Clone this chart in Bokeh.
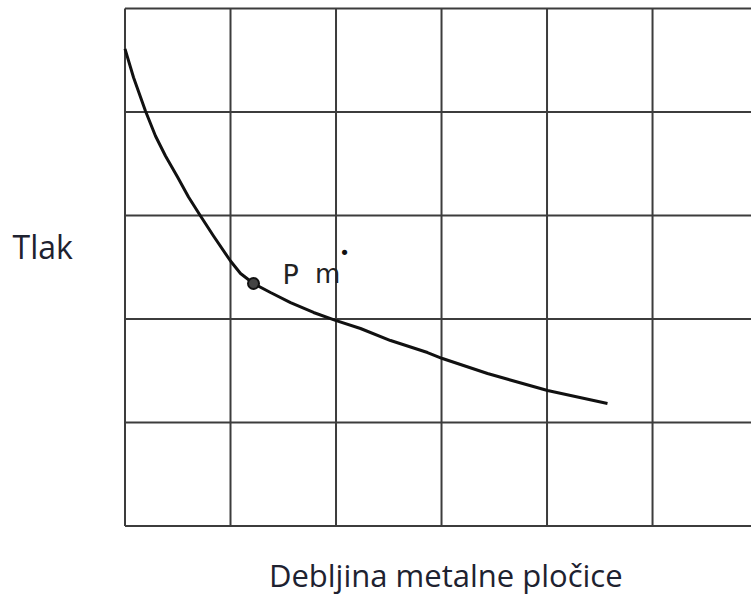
from bokeh.plotting import figure
from bokeh.models import Range1d
from bokeh.core.properties import value
from bokeh.embed import file_html
from bokeh.resources import INLINE

# Data (arbitrary units)
thickness = [0.0, 0.081, 0.194, 0.289, 0.384, 0.498, 0.602, 0.716, 0.839, 1.0, 1.095, 1.218,
             1.379, 1.569, 1.787, 1.995, 2.232, 2.517, 2.867, 3.009, 3.436, 4.005, 4.573]
pressure = [4.61, 4.333, 4.01, 3.768, 3.575, 3.372, 3.179, 2.995, 2.802, 2.56, 2.44, 2.343,
            2.256, 2.159, 2.063, 1.986, 1.908, 1.792, 1.676, 1.618, 1.473, 1.309, 1.184]
pm_x = [1.218]
pm_y = [2.343]
x_grid = [0, 1, 2, 3, 4, 5, 6]
y_grid = [0, 1, 2, 3, 4, 5]
x_title = "Debljina metalne pločice"
y_title = "Tlak"
point_label_main = "P"
point_label_sub = "m"
point_label_mark = "•"

x_min, x_max = 0, 6
y_min, y_max = 0, 5

p = figure(width=751, height=596, output_backend="svg", toolbar_location=None,
           x_axis_type=None, y_axis_type=None,
           x_range=Range1d(-1.180, 5.938), y_range=Range1d(-0.681, 5.077),
           min_border=0)
p.outline_line_color = None
p.background_fill_color = "white"
p.border_fill_color = "white"
p.xgrid.visible = False
p.ygrid.visible = False

grid_color = "#3c3c3c"
# vertical grid lines
p.segment(x0=x_grid, y0=[y_min] * len(x_grid), x1=x_grid, y1=[y_max] * len(x_grid),
          line_color=grid_color, line_width=2)
# horizontal grid lines
p.segment(x0=[x_min] * len(y_grid), y0=y_grid, x1=[x_max] * len(y_grid), y1=y_grid,
          line_color=grid_color, line_width=2)

p.line(thickness, pressure, line_color="#111111", line_width=3, line_join="round")
p.scatter(pm_x, pm_y, size=11, fill_color="#444444", line_color="#111111", line_width=2)

p.text(x=[1.493], y=[2.43], text=[point_label_main], text_font=value("DejaVu Sans"),
       text_font_size="27px", text_color="#222222", text_baseline="alphabetic",
       text_align="left")
p.text(x=[1.80], y=[2.43], text=[point_label_sub], text_font=value("DejaVu Sans"),
       text_font_size="26px", text_color="#222222", text_baseline="alphabetic",
       text_align="left")
p.text(x=[2.08], y=[2.64], text=[point_label_mark], text_font=value("DejaVu Sans"),
       text_font_size="18px", text_color="#111111", text_baseline="middle",
       text_align="center")

p.text(x=[-1.066], y=[2.70], text=[y_title], text_font=value("Open Sans"),
       text_font_size="32px", text_color="#1e2230", text_baseline="middle",
       text_align="left")
p.text(x=[3.04], y=[-0.47], text=[x_title], text_font=value("Open Sans"),
       text_font_size="31px", text_color="#1e2230", text_baseline="middle",
       text_align="center")

open("out.html", "w").write(file_html(p, INLINE))
